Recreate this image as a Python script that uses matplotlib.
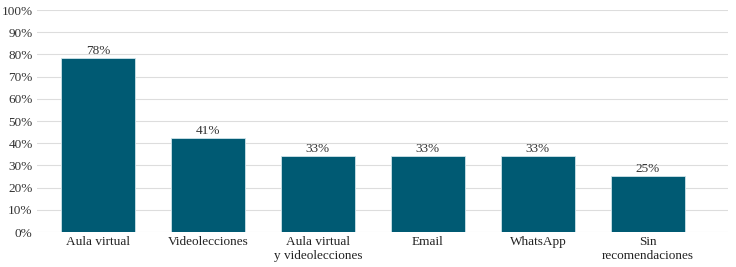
import matplotlib
matplotlib.use("Agg")
import matplotlib.pyplot as plt
from matplotlib.ticker import PercentFormatter

categories = ["Aula virtual", "Videolecciones", "Aula virtual\ny videolecciones",
              "Email", "WhatsApp", "Sin\nrecomendaciones"]
values = [78.3, 42.2, 34.1, 34.1, 34.1, 25.4]
value_labels = ["78%", "41%", "33%", "33%", "33%", "25%"]
yticks = list(range(0, 101, 10))

plt.rcParams['font.family'] = ['Liberation Serif', 'DejaVu Serif']

fig = plt.figure(figsize=(7.36, 2.67), dpi=100)
ax = fig.add_axes([0.050, 0.131, 0.939, 0.8315])

x = range(len(categories))
bars = ax.bar(x, values, width=0.67, color="#005a73", edgecolor="#cfe3ea",
              linewidth=0.6, zorder=3)
for b, lab in zip(bars, value_labels):
    ax.text(b.get_x() + b.get_width() / 2, b.get_height() + 0.4, lab,
            ha="center", va="bottom", fontsize=9.5, color="#333333", zorder=4)

ax.set_ylim(0, 100)
ax.set_xlim(-0.555, 5.727)
ax.set_yticks(yticks)
ax.yaxis.set_major_formatter(PercentFormatter(decimals=0))
ax.set_xticks(list(x))
ax.set_xticklabels(categories, fontsize=9.5, color="#222222", linespacing=1.25)
ax.tick_params(axis="y", labelsize=9.5, labelcolor="#333333", length=0, pad=3)
ax.tick_params(axis="x", length=0, pad=3)
ax.grid(axis="y", color="#dddddd", linewidth=0.8, zorder=0)
for s in ax.spines.values():
    s.set_visible(False)

fig.savefig("out.png", dpi=100)
